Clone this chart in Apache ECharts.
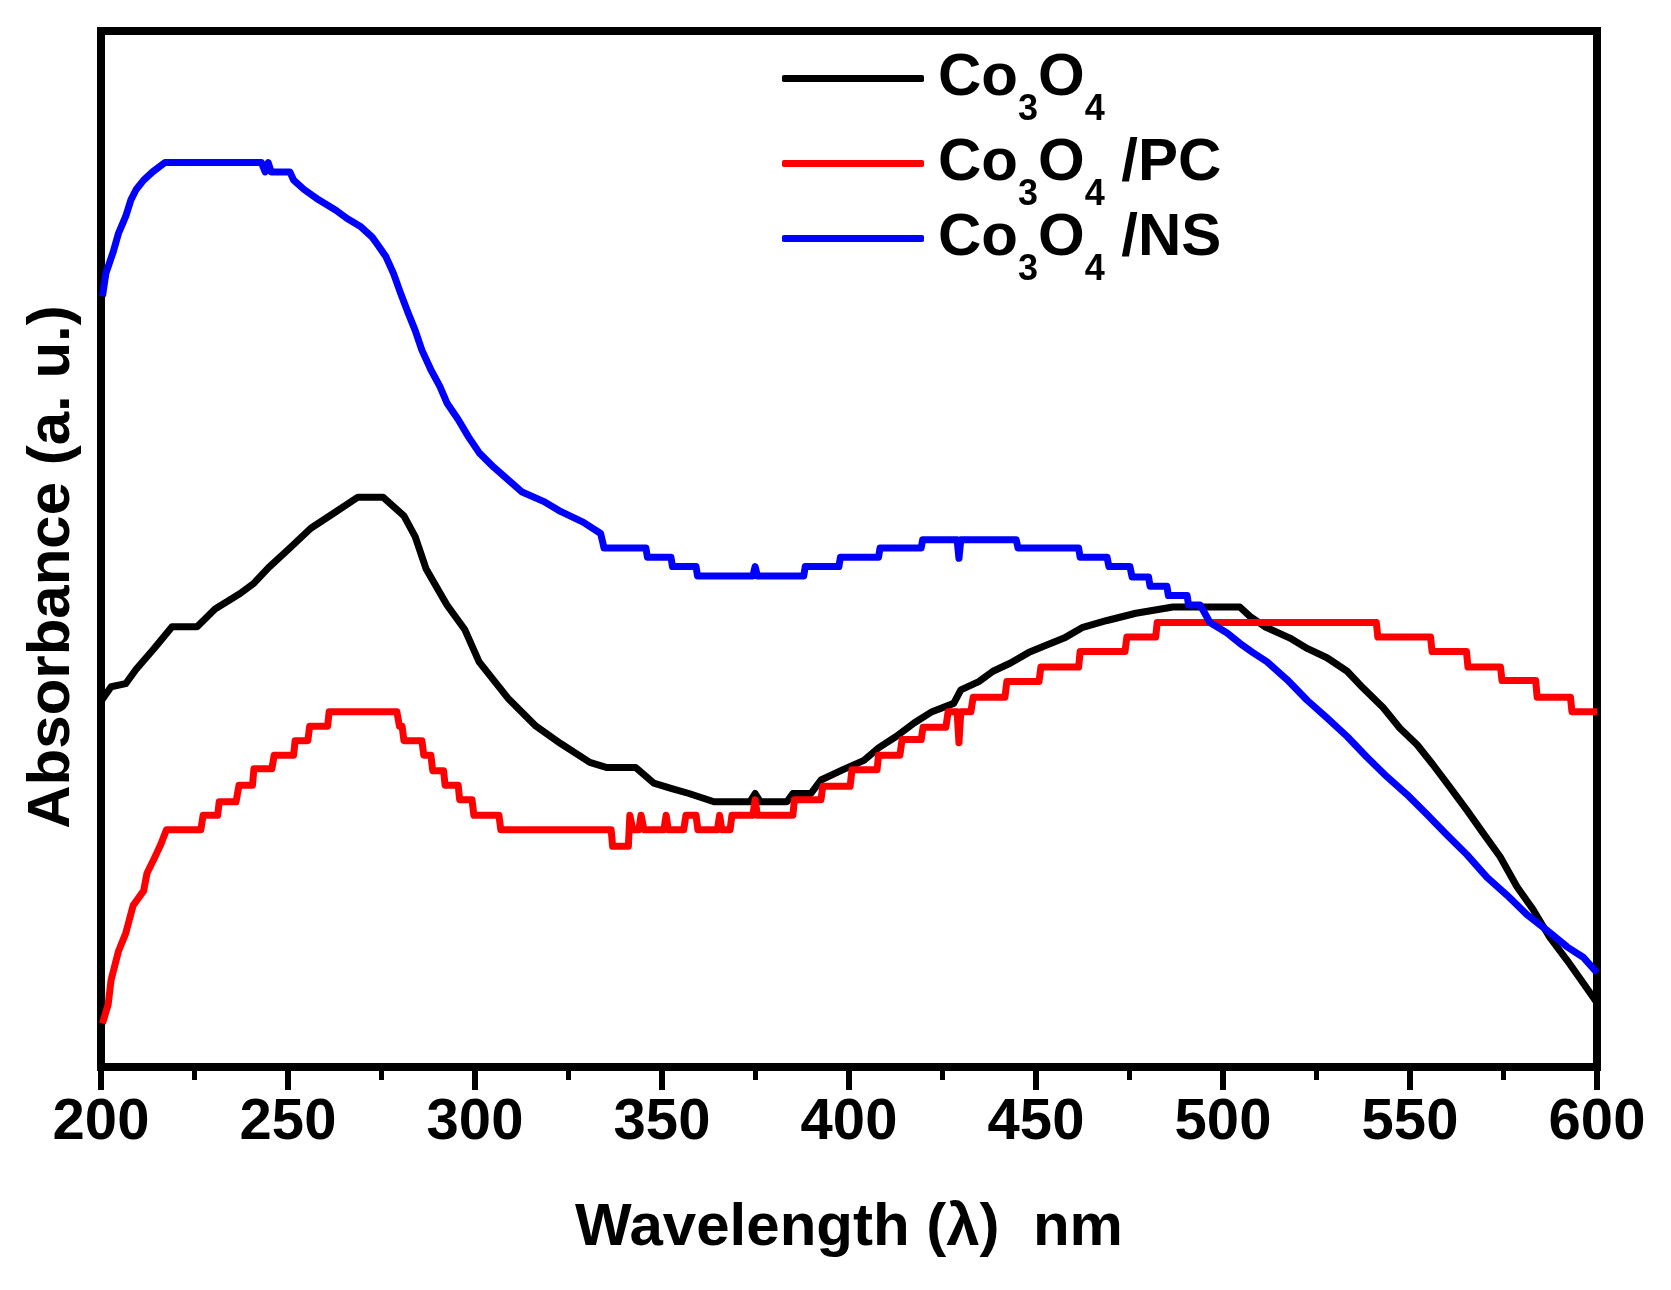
<!DOCTYPE html>
<html>
<head>
<meta charset="utf-8">
<title>Absorbance</title>
<script src="https://cdn.jsdelivr.net/npm/echarts@6/dist/echarts.min.js"></script>
<style>
  html, body { margin: 0; padding: 0; background: #fff; }
  #chart { width: 1671px; height: 1290px; }
</style>
</head>
<body>
<div id="chart"></div>
<script>
// wavelength (nm) / absorbance (a. u., arbitrary 0-100 scale) pairs
const co3o4 = [
  [200, 35.3], [202.7, 36.7], [206.6, 37.0], [209.4, 38.4], [214.2, 40.4], [219, 42.5], [225.7, 42.5],
  [230.5, 44.2], [237.2, 45.7], [240.9, 46.7], [244.8, 48.2], [250.5, 50.1], [256.1, 52.0], [262, 53.4],
  [268.7, 55.0], [275.4, 55.0], [281, 53.2], [284, 51.2], [286.9, 48.1], [292.5, 44.6], [297.3, 42.2],
  [301.1, 39.1], [308.8, 35.6], [316.3, 32.9], [323, 31.2], [330.7, 29.4], [335.3, 28.9], [343, 28.9],
  [347.8, 27.4], [352.4, 26.9], [357.2, 26.4], [363.9, 25.6], [373.5, 25.6], [374.9, 26.4], [376.3, 25.6],
  [383.4, 25.6], [385, 26.4], [389.8, 26.4], [392.5, 27.7], [398.4, 28.7], [404, 29.6], [407.9, 30.8],
  [412.6, 31.9], [417.4, 33.2], [422.2, 34.3], [428, 35.1], [429.9, 36.4], [434.7, 37.2], [438.5, 38.2],
  [443.2, 39.0], [448, 40.0], [452.7, 40.7], [457.5, 41.4], [462.3, 42.4], [469, 43.1], [476.7, 43.8],
  [486.6, 44.4], [504.5, 44.4], [507.2, 43.5], [511.2, 42.5], [517.9, 41.4], [522.5, 40.4], [527.8, 39.5],
  [533.2, 38.2], [537.4, 36.6], [542.8, 34.7], [547.3, 32.7], [551.9, 31.1], [556.1, 29.2], [560.7, 27.0],
  [565.2, 24.8], [569.5, 22.6], [574.1, 20.3], [578.6, 17.4], [582.9, 15.2], [587.4, 12.5], [592, 10.3],
  [596.3, 8.1], [600, 6.2]
];

const co3o4PC = [
  [200.4, 4.2], [201.9, 6.0], [202.7, 8.4], [204.7, 11.2], [206.6, 12.9], [208.6, 15.6], [211.4, 17.0],
  [212.3, 18.7], [214.2, 20.1], [216.0, 21.5], [217.5, 22.9], [226.7, 22.9], [227.3, 24.3], [231.2, 24.3],
  [231.6, 25.6], [236.1, 25.6], [236.9, 27.2], [240.5, 27.2], [240.9, 28.8], [245.7, 28.8], [246.3, 30.1],
  [251.5, 30.1], [251.9, 31.5], [255.3, 31.5], [255.8, 32.9], [260.6, 32.9], [261.0, 34.3], [279.1, 34.3],
  [279.8, 32.9], [280.5, 32.9], [281.0, 31.5], [285.8, 31.5], [286.3, 30.1], [288.2, 30.1], [288.7, 28.6],
  [291.6, 28.6], [292.0, 27.2], [295.5, 27.2], [295.9, 25.8], [299.2, 25.8], [299.7, 24.3], [306.4, 24.3],
  [306.9, 22.9], [336.4, 22.9], [336.8, 21.3], [341.0, 21.3], [341.4, 24.3], [342.2, 22.9], [343.8, 22.9],
  [344.4, 24.3], [345.2, 22.9], [350.5, 22.9], [351.1, 24.3], [351.7, 22.9], [355.8, 22.9], [356.4, 24.3],
  [359.1, 24.3], [359.6, 22.9], [364.8, 22.9], [365.4, 24.3], [366.0, 22.9], [368.2, 22.9], [368.7, 24.3],
  [374.3, 24.3], [374.9, 25.8], [375.5, 24.3], [385.0, 24.3], [385.4, 25.8], [392.5, 25.8], [393.0, 27.1],
  [400.3, 27.1], [400.8, 28.7], [407.5, 28.7], [407.9, 30.1], [413.6, 30.1], [414.2, 31.6], [419.3, 31.6],
  [419.8, 32.8], [425.9, 32.8], [426.5, 34.3], [428.9, 34.3], [429.4, 31.3], [429.9, 34.3], [432.6, 34.3],
  [433.2, 35.7], [441.7, 35.7], [442.2, 37.2], [450.8, 37.2], [451.3, 38.6], [461.4, 38.6], [461.8, 40.1],
  [473.8, 40.1], [474.3, 41.5], [482.0, 41.5], [482.4, 42.9], [541.0, 42.9], [541.4, 41.5], [555.5, 41.5],
  [555.9, 40.1], [565.1, 40.1], [565.5, 38.6], [574.2, 38.6], [574.6, 37.3], [583.6, 37.3], [584.0, 35.7],
  [592.9, 35.7], [593.3, 34.3], [600, 34.3]
];

const co3o4NS = [
  [200.4, 74.4], [201.3, 76.6], [203.2, 78.6], [204.7, 80.5], [206.6, 82.1], [208, 83.7], [209.4, 84.7],
  [211.4, 85.6], [213.8, 86.4], [217.1, 87.3], [242.9, 87.3], [243.9, 86.4], [244.7, 87.3], [245.5, 86.4],
  [250.5, 86.4], [251.5, 85.6], [254.3, 84.7], [258.2, 83.7], [262.8, 82.7], [265.8, 81.9], [269.5, 81.1],
  [272.5, 80.1], [274.3, 79.2], [276.2, 78.2], [278.2, 76.6], [280.1, 74.7], [282.1, 72.8], [284, 71.1],
  [285.8, 69.2], [288.2, 67.3], [290.6, 65.7], [292.5, 64.1], [295.5, 62.5], [298.3, 60.8], [301.1, 59.3],
  [305, 57.9], [308.8, 56.7], [312.6, 55.5], [318.3, 54.6], [323, 53.6], [328.9, 52.6], [333.6, 51.5],
  [334.5, 50.1], [345.7, 50.1], [346.1, 49.2], [352.4, 49.2], [352.8, 48.3], [359.1, 48.3], [359.5, 47.4],
  [374.3, 47.4], [374.9, 48.3], [375.5, 47.4], [387.9, 47.4], [388.3, 48.3], [397.3, 48.3], [397.7, 49.2],
  [407.9, 49.2], [408.3, 50.1], [419.3, 50.1], [419.7, 50.9], [428.9, 50.9], [429.4, 49.1], [429.9, 50.9],
  [444.7, 50.9], [445.2, 50.1], [461.4, 50.1], [461.8, 49.2], [469, 49.2], [469.5, 48.3], [475.1, 48.3],
  [475.7, 47.3], [480.1, 47.3], [480.5, 46.4], [485, 46.4], [485.4, 45.5], [490.4, 45.5], [490.8, 44.6],
  [493.9, 44.6], [496.5, 42.9], [501.1, 41.9], [504.5, 40.9], [508, 40.0], [511.8, 39.1], [517.1, 37.4],
  [522.5, 35.4], [527.8, 33.7], [533.2, 31.9], [538.5, 29.9], [543.9, 28.0], [549.2, 26.3], [554.5, 24.4],
  [559.9, 22.4], [565.2, 20.5], [570.6, 18.3], [575.9, 16.6], [581.3, 14.7], [586.6, 13.2], [592, 11.6],
  [596.3, 10.6], [600, 9.1]
];

const seriesNames = ['Co3O4', 'Co3O4/PC', 'Co3O4/NS'];
const seriesColors = ['#000000', '#ff0000', '#0000ff'];
const legendLabels = ['{m|Co}{s|3}{m|O}{s|4}', '{m|Co}{s|3}{m|O}{s|4}{m| /PC}', '{m|Co}{s|3}{m|O}{s|4}{m| /NS}'];
const legendRows = [29, 114, 189];

const FONT = '"Liberation Sans", Arial, Helvetica, sans-serif';

const chart = echarts.init(document.getElementById('chart'), null, { renderer: 'canvas' });

const richText = {
  m: { fontSize: 60, fontWeight: 'bold', fontFamily: FONT, color: '#000', lineHeight: 60 },
  s: { fontSize: 36, fontWeight: 'bold', fontFamily: FONT, color: '#000', lineHeight: 36, padding: [63, 0, 0, 0] }
};

// one legend block per row, rows are not evenly spaced in the figure
const legends = seriesNames.map((name, i) => ({
  data: [name],
  left: 782,
  top: legendRows[i],
  padding: 0,
  icon: 'roundRect',
  itemWidth: 142,
  itemHeight: 7,
  selectedMode: false,
  formatter: () => legendLabels[i],
  textStyle: { padding: [0, 0, 0, 9], rich: richText }
}));

const datasets = [co3o4, co3o4PC, co3o4NS];

chart.setOption({
  animation: false,
  backgroundColor: '#fff',
  legend: legends,
  grid: {
    left: 101, right: 74, top: 31, bottom: 223,
    show: true, borderColor: '#000', borderWidth: 8, backgroundColor: 'transparent'
  },
  xAxis: {
    type: 'value',
    min: 200, max: 600, interval: 50,
    name: 'Wavelength (\u03bb)  nm',
    nameLocation: 'middle',
    nameGap: 131,
    nameTextStyle: { fontSize: 60, fontWeight: 'bold', fontFamily: FONT, color: '#000' },
    axisLine: { lineStyle: { color: '#000', width: 8 } },
    axisTick: { length: 23, lineStyle: { color: '#000', width: 6 } },
    minorTick: { show: true, splitNumber: 2, length: 13, lineStyle: { color: '#000', width: 5 } },
    axisLabel: { margin: 27, fontSize: 58, fontWeight: 'bold', fontFamily: FONT, color: '#000' },
    splitLine: { show: false }
  },
  yAxis: {
    type: 'value',
    min: 0, max: 100,
    name: 'Absorbance (a. u.)',
    nameLocation: 'middle',
    nameRotate: 90,
    nameGap: 19,
    nameTextStyle: { fontSize: 60, fontWeight: 'bold', fontFamily: FONT, color: '#000', padding: [0, 36, 0, 0] },
    axisLine: { show: true, lineStyle: { color: '#000', width: 8 } },
    axisTick: { show: false },
    axisLabel: { show: false },
    splitLine: { show: false }
  },
  series: seriesNames.map((name, i) => ({
    name: name,
    type: 'line',
    data: datasets[i],
    showSymbol: false,
    symbol: 'none',
    color: seriesColors[i],
    itemStyle: { color: seriesColors[i] },
    lineStyle: { color: seriesColors[i], width: 7, join: 'round' },
    z: 2 + i
  }))
});
</script>
</body>
</html>
